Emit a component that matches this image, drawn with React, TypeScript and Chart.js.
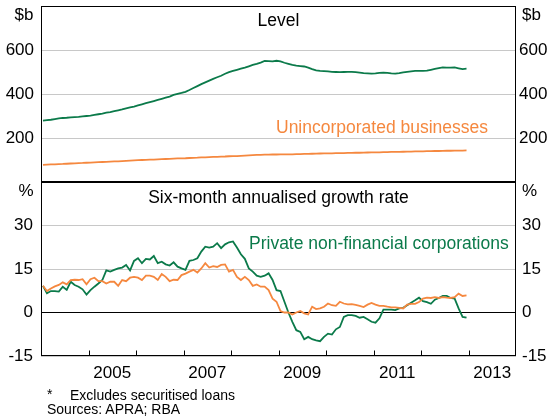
import React, { useEffect, useRef } from 'react';
import { Chart, registerables } from 'chart.js';

Chart.register(...registerables);

const FONT = '"Liberation Sans", Arial, Helvetica, sans-serif';
const GREEN = '#0b7a4a';
const ORANGE = '#f5883f';
const GRID = '#c8c8c8';

// Monthly observations, Jan 2004 - Dec 2012
const startYear = 2004;
const endYear = 2014;
const monthCount = 108;
const months = Array.from({ length: monthCount }, (_, i) => startYear + (i + 0.5) / 12);

const yearTicks = [2005, 2006, 2007, 2008, 2009, 2010, 2011, 2012, 2013];
const yearLabels = [2005, 2007, 2009, 2011, 2013];
const levelTickLabels = [200, 400, 600];
const growthTickLabels = [-15, 0, 15, 30];

// Level, $b
const corpLevel = [
  279, 281, 283, 286, 289, 291, 292, 294, 295, 296, 298, 300,
  302, 305, 308, 311, 315, 318, 322, 326, 330, 335, 339, 343,
  348, 353, 358, 363, 368, 373, 378, 383, 388, 396, 401, 405,
  410, 418, 427, 436, 445, 453, 461, 469, 476, 483, 492, 499,
  505, 510, 515, 520, 526, 532, 537, 543, 550, 549, 548, 551,
  548, 542, 537, 532, 529, 527, 525, 520, 513, 507, 505, 504,
  503, 501, 500, 499, 500, 501, 501, 499, 497, 495, 494, 493,
  494, 496, 497, 496, 494, 493, 495, 498, 501, 503, 505, 505,
  505, 506, 510, 514, 518, 521, 520, 520, 521, 517, 513, 515,
];
const unincLevel = [
  78, 79, 80, 80.5, 81.5, 82, 83, 84, 85, 86, 86.5, 87.5,
  88, 89, 90, 91, 91.5, 92.5, 93.5, 94, 95, 96, 97, 98,
  99, 100, 101, 101.5, 102, 103, 104, 104.5, 105, 106, 107, 107.5,
  108, 109, 110, 110.5, 111.5, 112, 113, 114, 114.5, 115.5, 116, 117,
  117.5, 118, 119, 120, 121, 122, 123, 123.5, 124, 124.5, 125, 125,
  125.5, 125.5, 126, 126, 126.5, 127, 127.5, 128, 128.5, 129, 129.5, 130,
  130, 130.5, 131, 131, 131.5, 132, 132.5, 133, 133, 133.5, 134, 134.5,
  135, 135, 135.5, 136, 136.5, 137, 137, 137.5, 138, 138.5, 139, 139,
  139.5, 140, 140.5, 141, 141, 141.5, 142, 142, 142.5, 143, 143, 143.5,
];

// Six-month annualised growth rate, %
const corpGrowth = [
  9.2, 6.6, 7.4, 7.4, 7.2, 8.9, 7.8, 10.6, 9.5, 8.9, 8.0, 6.2,
  7.7, 8.9, 10.0, 11.2, 14.5, 14.1, 14.7, 15.2, 15.5, 16.4, 14.5, 17.8,
  18.7, 17.0, 18.5, 18.3, 19.5, 17.0, 17.5, 16.6, 16.2, 17.3, 15.8, 15.2,
  14.7, 17.8, 18.1, 18.7, 21.0, 22.7, 22.4, 22.7, 23.9, 22.2, 23.5, 24.2,
  24.5, 22.4, 20.1, 18.5, 15.2, 14.1, 12.7, 12.3, 12.7, 13.5, 11.2, 7.7,
  7.4, 3.7, 0.0, -3.2, -6.1, -6.7, -9.2, -8.4, -9.2, -9.6, -9.9, -8.4,
  -7.3, -7.6, -5.8, -5.0, -1.5, -0.9, -0.9, -1.2, -1.8, -1.5, -2.3, -3.2,
  -3.5, -2.0, 1.0, 1.0, 1.0, 0.8, 1.4, 1.6, 2.5, 3.4, 4.2, 5.1,
  3.9, 3.6, 3.0, 4.4, 5.0, 5.7, 5.7, 5.0, 4.8, 1.4, -1.5, -1.8,
];
const unincGrowth = [
  9.2, 7.4, 8.3, 9.0, 9.5, 10.4, 9.7, 11.2, 11.3, 11.2, 11.5, 9.7,
  11.5, 12.0, 10.8, 10.8, 10.0, 10.6, 10.6, 9.2, 11.2, 10.8, 12.0, 12.3,
  12.0, 11.2, 12.7, 12.7, 12.3, 11.2, 13.3, 12.3, 10.8, 11.3, 11.2, 12.9,
  13.4, 14.1, 14.7, 13.8, 15.2, 17.0, 15.5, 16.0, 15.7, 16.4, 16.6, 14.1,
  14.7, 12.3, 11.2, 12.3, 11.2, 9.2, 9.7, 8.9, 8.9, 7.7, 4.8, 3.7,
  0.5, 0.0, 0.0, -0.7, 0.0, 0.5, -0.3, -0.7, 2.0, 1.2, 1.4, 2.0,
  3.1, 2.5, 2.3, 3.7, 3.1, 2.8, 2.9, 2.6, 2.3, 1.9, 2.7, 3.3,
  2.7, 2.3, 2.3, 2.0, 1.8, 1.8, 1.6, 1.4, 2.7, 3.0, 3.0, 3.6,
  4.8, 5.1, 5.0, 5.3, 5.0, 5.3, 5.1, 5.0, 5.3, 6.5, 5.7, 5.9,
];

const toPoints = (vals: number[]) => vals.map((v, i) => ({ x: months[i], y: v }));

const tickFont = { family: FONT, size: 17 };

function framePlugin(drawYearTicks: boolean) {
  return {
    id: 'frame',
    afterDatasetsDraw(chart: any) {
      const { ctx, chartArea: a } = chart;
      ctx.save();
      ctx.strokeStyle = '#000';
      ctx.lineWidth = 1;
      const l = Math.round(a.left) + 0.5;
      const r = Math.round(a.right) - 0.5;
      const t = Math.round(a.top) + 0.5;
      const b = Math.round(a.bottom) - 0.5;
      ctx.strokeRect(l, t, r - l, b - t);
      if (drawYearTicks) {
        const xs = chart.scales.x;
        ctx.beginPath();
        yearTicks.forEach((yr) => {
          const px = Math.round(xs.getPixelForValue(yr)) + 0.5;
          ctx.moveTo(px, b);
          ctx.lineTo(px, b - 5);
        });
        ctx.stroke();
      }
      ctx.restore();
    },
  };
}

function yAxis(
  position: 'left' | 'right',
  min: number,
  max: number,
  step: number,
  shown: number[],
  gridOn: boolean,
  zeroBlack: boolean,
  pad: number,
) {
  return {
    type: 'linear',
    position,
    min,
    max,
    afterFit: (s: any) => {
      s.width = position === 'left' ? 41 : 33;
      s.paddingTop = 0;
      s.paddingBottom = 0;
    },
    ticks: {
      stepSize: step,
      padding: pad,
      color: '#000',
      font: tickFont,
      callback: (v: number) => (shown.includes(v) ? String(v) : null),
    },
    grid: {
      display: gridOn,
      drawTicks: false,
      lineWidth: 1,
      color: (c: any) => (zeroBlack && c.tick && c.tick.value === 0 ? '#000' : GRID),
    },
    border: { display: false },
  };
}

const lineDs = (label: string, vals: number[], color: string, axis: string) => ({
  label,
  data: toPoints(vals),
  borderColor: color,
  backgroundColor: color,
  borderWidth: 1.8,
  pointRadius: 0,
  tension: 0,
  fill: false,
  yAxisID: axis,
});

const Txt = ({ x, y, align = 'left', color = '#000', size = 17.5, children }: any) => {
  const tx = align === 'center' ? '-50%' : align === 'right' ? '-100%' : '0';
  return (
    <div
      style={{
        position: 'absolute',
        left: x,
        top: y,
        transform: `translate(${tx}, -50%)`,
        whiteSpace: 'nowrap',
        fontFamily: FONT,
        fontSize: size,
        lineHeight: 1,
        color,
      }}
    >
      {children}
    </div>
  );
};

export default function App() {
  const topRef = useRef<HTMLCanvasElement>(null);
  const botRef = useRef<HTMLCanvasElement>(null);

  useEffect(() => {
    const top = new Chart(topRef.current as HTMLCanvasElement, {
      type: 'line',
      data: {
        datasets: [
          lineDs('Unincorporated businesses', unincLevel, ORANGE, 'y'),
          lineDs('Private non-financial corporations', corpLevel, GREEN, 'y'),
        ],
      },
      options: {
        responsive: false,
        animation: false,
        events: [],
        layout: { padding: { top: 6, bottom: 238, left: 0, right: 0 } },
        plugins: { legend: { display: false }, tooltip: { enabled: false }, title: { display: false } },
        scales: {
          x: { type: 'linear', min: startYear, max: endYear, display: false },
          y: yAxis('left', 0, 800, 200, levelTickLabels, true, false, 7),
          y2: yAxis('right', 0, 800, 200, levelTickLabels, false, false, 3),
        },
      } as any,
      plugins: [framePlugin(false)],
    } as any);

    const bot = new Chart(botRef.current as HTMLCanvasElement, {
      type: 'line',
      data: {
        datasets: [
          lineDs('Unincorporated businesses', unincGrowth, ORANGE, 'y'),
          lineDs('Private non-financial corporations', corpGrowth, GREEN, 'y'),
        ],
      },
      options: {
        responsive: false,
        animation: false,
        events: [],
        layout: { padding: { top: 182, bottom: 34, left: 0, right: 0 } },
        plugins: { legend: { display: false }, tooltip: { enabled: false }, title: { display: false } },
        scales: {
          x: {
            type: 'linear',
            min: startYear,
            max: endYear,
            afterBuildTicks: (s: any) => {
              s.ticks = yearLabels.map((yr) => ({ value: yr + 0.5 }));
            },
            afterFit: (s: any) => {
              s.height = 30;
              s.paddingLeft = 0;
              s.paddingRight = 0;
            },
            ticks: {
              autoSkip: false,
              maxRotation: 0,
              minRotation: 0,
              padding: 7,
              color: '#000',
              font: tickFont,
              callback: (v: number) => String(Math.floor(v)),
            },
            grid: { display: false, drawTicks: false },
            border: { display: false },
          },
          y: yAxis('left', -15, 45, 15, growthTickLabels, true, true, 8),
          y2: yAxis('right', -15, 45, 15, growthTickLabels, false, false, 6),
        },
      } as any,
      plugins: [framePlugin(true)],
    } as any);

    return () => {
      top.destroy();
      bot.destroy();
    };
  }, []);

  const canvasStyle: React.CSSProperties = { position: 'absolute', left: 0, top: 0, width: 549, height: 420 };

  return (
    <div style={{ position: 'fixed', left: 0, top: 0, width: 549, height: 420, background: '#fff', overflow: 'hidden' }}>
      <canvas ref={topRef} width={549} height={420} style={canvasStyle} />
      <canvas ref={botRef} width={549} height={420} style={canvasStyle} />
      <Txt x={33.5} y={14} align="right" size={17}>$b</Txt>
      <Txt x={522} y={14} size={17}>$b</Txt>
      <Txt x={33.5} y={190} align="right" size={17}>%</Txt>
      <Txt x={522} y={190} size={17}>%</Txt>
      <Txt x={278.5} y={21} align="center">Level</Txt>
      <Txt x={276} y={128} color={ORANGE}>Unincorporated businesses</Txt>
      <Txt x={278.5} y={198} align="center">Six-month annualised growth rate</Txt>
      <Txt x={249} y={244} color={GREEN}>Private non-financial corporations</Txt>
      <Txt x={47} y={394} size={14}>*</Txt>
      <Txt x={70} y={395} size={14}>Excludes securitised loans</Txt>
      <Txt x={47} y={409} size={14}>Sources: APRA; RBA</Txt>
    </div>
  );
}
